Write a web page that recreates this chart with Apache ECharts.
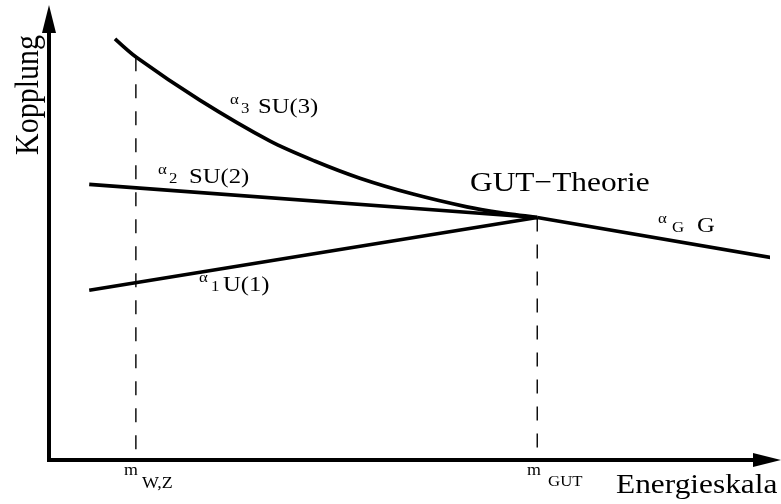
<!DOCTYPE html>
<html>
<head>
<meta charset="utf-8">
<script src="https://cdn.jsdelivr.net/npm/echarts@6/dist/echarts.min.js"></script>
<style>
  html, body { margin: 0; padding: 0; background: #fff; }
  #chart { width: 781px; height: 504px; }
</style>
</head>
<body>
<div id="chart"></div>
<script>
// Running couplings vs. energy scale (schematic, arbitrary units 0..100)
const alpha3Curve = [[9.19, 95.5], [12.26, 91.2], [21.0, 81.6], [30.8, 72.3], [37.0, 67.8], [43.3, 63.9], [50.7, 60.3], [58.2, 57.4], [62.8, 56.1], [68.0, 55.0]];
const alpha2Line = [[5.6, 62.5], [68.0, 55.0]];
const alpha1Line = [[5.6, 38.5], [68.0, 55.0]];
const alphaGLine = [[68.0, 55.0], [100.6, 45.9]];
// mass scales on the energy axis and the coupling where each guide line starts
const massScales = [12.1, 68.0];
const massGuideTops = [91.3, 55.0];

const SERIF = 'Liberation Serif';
const STRETCH = 1.12;

// text placed by its left edge and alphabetic baseline
function txt(x, baseline, text, size, extra) {
  return Object.assign({
    type: 'text',
    x: x,
    y: baseline - 0.3 * size,
    scaleX: STRETCH,
    style: {
      text: text,
      fontSize: size,
      fontFamily: SERIF,
      fill: '#000',
      align: 'left',
      verticalAlign: 'middle'
    },
    silent: true
  }, extra || {});
}

const lineStyle = { color: '#000', width: 3.6 };
function curve(data, smooth) {
  return {
    type: 'line', data: data, smooth: smooth || false,
    showSymbol: false, symbol: 'none', clip: false, silent: true,
    lineStyle: lineStyle
  };
}
function guide(i) {
  return {
    type: 'line', showSymbol: false, symbol: 'none', silent: true, clip: false,
    data: [[massScales[i], massGuideTops[i]], [massScales[i], 0]],
    lineStyle: { color: '#000', width: 1.4, type: [14, 13] }
  };
}

const axisCommon = {
  type: 'value', min: 0, max: 100,
  splitLine: { show: false }, axisTick: { show: false }, axisLabel: { show: false },
  axisLine: {
    show: true, symbol: ['none', 'triangle'], symbolSize: [14, 28],
    lineStyle: { color: '#000', width: 4, cap: 'square' }
  }
};

const chart = echarts.init(document.getElementById('chart'), null, { renderer: 'canvas' });
chart.setOption({
  animation: false,
  backgroundColor: '#fff',
  grid: { left: 49, right: 14, top: 19, bottom: 44, outerBoundsMode: 'none' },
  xAxis: Object.assign({}, axisCommon),
  yAxis: Object.assign({}, axisCommon),
  series: [
    guide(0),
    guide(1),
    curve(alpha3Curve, 0.3),
    curve(alpha2Line),
    curve(alpha1Line),
    curve(alphaGLine)
  ],
  graphic: [
    // curve labels
    txt(230, 105, 'α', 15), txt(241, 114, '3', 15), txt(258, 114, 'SU(3)', 22),
    txt(158, 175, 'α', 15), txt(169, 184, '2', 15), txt(189, 184, 'SU(2)', 22),
    txt(199, 283, 'α', 15), txt(211, 292, '1', 15), txt(223, 292, 'U(1)', 22),
    txt(658, 224, 'α', 15), txt(672, 233, 'G', 15), txt(697, 233, 'G', 22),
    txt(470, 192, 'GUT−Theorie', 28),
    // mass scale labels
    txt(124, 476, 'm', 16), txt(142, 489, 'W,Z', 16),
    txt(527, 476, 'm', 16), txt(548, 487, 'GUT', 15),
    // axis titles
    txt(616, 494, 'Energieskala', 28),
    {
      type: 'text', x: 29, y: 155, rotation: Math.PI / 2, scaleY: 1.1, silent: true,
      style: { text: 'Kopplung', fontSize: 30, fontFamily: SERIF, fill: '#000', align: 'left', verticalAlign: 'middle' }
    }
  ]
});
</script>
</body>
</html>
